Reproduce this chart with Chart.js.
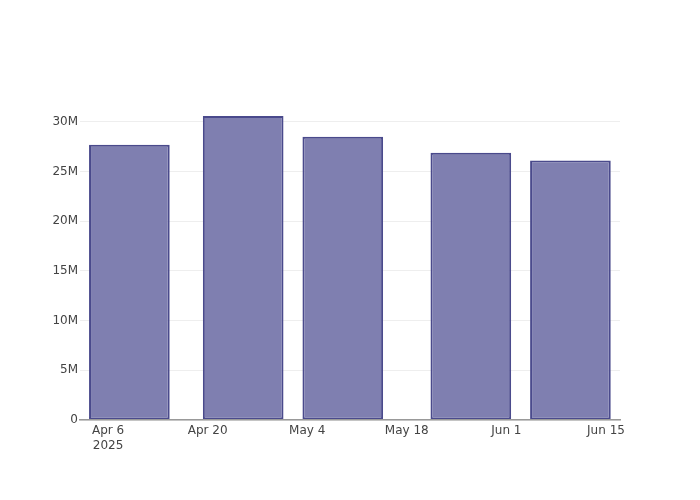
<!DOCTYPE html>
<html>
<head>
<meta charset="utf-8">
<script src="https://cdn.jsdelivr.net/npm/chart.js@4"></script>
<style>
html,body{margin:0;padding:0;background:#fff;}
#wrap{width:700px;height:500px;}
</style>
</head>
<body>
<div id="wrap"><canvas id="c" width="700" height="500"></canvas></div>
<script>
const dates = ["2025-04-09", "2025-04-25", "2025-05-09", "2025-05-27", "2025-06-10"];
const values = [27.7e6, 30.6e6, 28.5e6, 26.9e6, 26.1e6];
const tickDates = ["2025-04-06", "2025-04-20", "2025-05-04", "2025-05-18", "2025-06-01", "2025-06-15"];
const tickLabels = [["Apr 6", "2025"], "Apr 20", "May 4", "May 18", "Jun 1", "Jun 15"];
const yTicks = [0, 5e6, 10e6, 15e6, 20e6, 25e6, 30e6];
const yTickLabels = ["0", "5M", "10M", "15M", "20M", "25M", "30M"];

const DAY = 86400000;
const base = Date.UTC(2025, 3, 6);
function dayNum(s) {
  const p = s.split("-").map(Number);
  return (Date.UTC(p[0], p[1] - 1, p[2]) - base) / DAY;
}
const xVals = dates.map(dayNum);
const xTickVals = tickDates.map(dayNum);
const points = xVals.map((x, i) => ({ x: x, y: values[i] }));

const font = { family: "'DejaVu Sans', Verdana, sans-serif", size: 12 };

new Chart(document.getElementById("c"), {
  type: "bar",
  data: {
    datasets: [{
      data: points,
      backgroundColor: "#7f7fb0",
      borderColor: "#4a4a8c",
      borderWidth: 2,
      borderSkipped: false,
      barPercentage: 0.81,
      categoryPercentage: 1.0
    }]
  },
  options: {
    responsive: false,
    animation: false,
    layout: { padding: { left: 0, right: 80, top: 100, bottom: 0 } },
    plugins: { legend: { display: false }, tooltip: { enabled: false } },
    scales: {
      x: {
        type: "linear",
        offset: false,
        min: -3.94,
        max: 71.97,
        grid: { display: false, offset: false, drawTicks: false },
        border: { display: true, color: "#999", width: 1.5, z: 1 },
        afterBuildTicks: (axis) => { axis.ticks = xTickVals.map(v => ({ value: v })); },
        afterFit: (axis) => { axis.height = 80; },
        ticks: {
          autoSkip: false,
          maxRotation: 0,
          padding: 4,
          color: "#444",
          font: font,
          callback: function (v) {
            const i = xTickVals.indexOf(v);
            return i >= 0 ? tickLabels[i] : "";
          }
        }
      },
      y: {
        min: 0,
        max: 32.2e6,
        grid: { color: "#eee", lineWidth: 1, drawTicks: false },
        border: { display: false },
        afterBuildTicks: (axis) => { axis.ticks = yTicks.map(v => ({ value: v })); },
        afterFit: (axis) => { axis.width = 80; },
        ticks: {
          padding: 2,
          color: "#444",
          font: font,
          callback: function (v) {
            const i = yTicks.indexOf(v);
            return i >= 0 ? yTickLabels[i] : "";
          }
        }
      }
    }
  }
});
</script>
</body>
</html>
